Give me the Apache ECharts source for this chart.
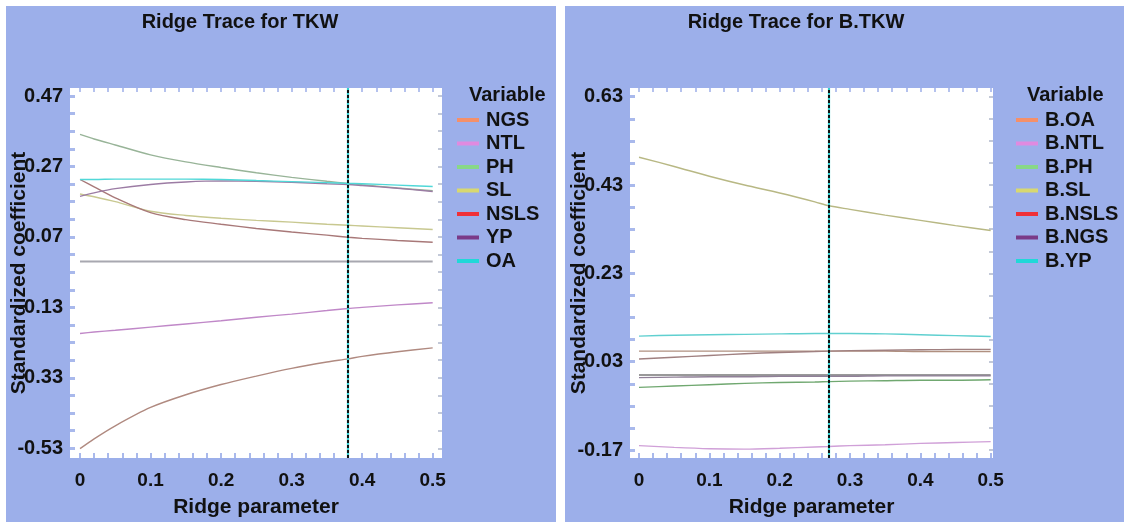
<!DOCTYPE html>
<html>
<head>
<meta charset="utf-8">
<script src="https://cdn.jsdelivr.net/npm/echarts@6/dist/echarts.min.js"></script>
<style>
html,body{margin:0;padding:0;background:#fff;}
#chart{width:1126px;height:522px;}
</style>
</head>
<body>
<div id="chart"></div>
<script>
// ---------- data ----------
const kTKW = [0, 0.02, 0.05, 0.1, 0.15, 0.2, 0.25, 0.3, 0.35, 0.38, 0.4, 0.45, 0.5];
const tkwNGS  = [-0.531, -0.503, -0.466, -0.414, -0.378, -0.349, -0.325, -0.303, -0.285, -0.276, -0.269, -0.256, -0.245];
const tkwNTL  = [-0.204, -0.200, -0.195, -0.186, -0.177, -0.168, -0.158, -0.149, -0.139, -0.133, -0.130, -0.123, -0.117];
const tkwPH   = [0.361, 0.348, 0.331, 0.303, 0.283, 0.267, 0.252, 0.239, 0.228, 0.222, 0.218, 0.209, 0.201];
const tkwSL   = [0.192, 0.184, 0.170, 0.143, 0.131, 0.123, 0.117, 0.112, 0.106, 0.103, 0.101, 0.096, 0.091];
const tkwNSLS = [0.233, 0.212, 0.181, 0.139, 0.119, 0.106, 0.094, 0.084, 0.075, 0.069, 0.066, 0.060, 0.055];
const tkwYP   = [0.185, 0.195, 0.207, 0.219, 0.226, 0.229, 0.228, 0.225, 0.221, 0.219, 0.216, 0.208, 0.199];
const tkwOA   = [0.233, 0.233, 0.234, 0.234, 0.234, 0.233, 0.230, 0.227, 0.224, 0.222, 0.221, 0.217, 0.213];

const kBTKW = [0, 0.05, 0.1, 0.15, 0.2, 0.25, 0.27, 0.3, 0.35, 0.4, 0.45, 0.5];
const bOA   = [0.054, 0.054, 0.054, 0.054, 0.054, 0.054, 0.054, 0.054, 0.054, 0.053, 0.053, 0.053];
const bNTL  = [-0.160, -0.164, -0.167, -0.168, -0.166, -0.163, -0.162, -0.160, -0.158, -0.155, -0.153, -0.151];
const bPH   = [-0.028, -0.025, -0.022, -0.019, -0.017, -0.016, -0.015, -0.014, -0.013, -0.012, -0.012, -0.011];
const bSL   = [0.493, 0.472, 0.450, 0.430, 0.412, 0.392, 0.383, 0.375, 0.362, 0.350, 0.338, 0.327];
const bNSLS = [0.036, 0.040, 0.044, 0.048, 0.051, 0.053, 0.054, 0.055, 0.056, 0.057, 0.058, 0.058];
const bNGS  = [-0.006, -0.005, -0.004, -0.004, -0.003, -0.003, -0.003, -0.003, -0.002, -0.002, -0.002, -0.002];
const bYP   = [0.088, 0.090, 0.091, 0.092, 0.093, 0.094, 0.094, 0.094, 0.093, 0.091, 0.089, 0.087];

const namesTKW  = ['NGS', 'NTL', 'PH', 'SL', 'NSLS', 'YP', 'OA'];
const namesBTKW = ['B.OA', 'B.NTL', 'B.PH', 'B.SL', 'B.NSLS', 'B.NGS', 'B.YP'];
const legendColors = ['#F4906A', '#E08AE0', '#88D888', '#D8D870', '#F03038', '#7A3A88', '#20D8D8'];

const yTicksTKW  = [-0.53, -0.33, -0.13, 0.07, 0.27, 0.47];
const yTicksBTKW = [-0.17, 0.03, 0.23, 0.43, 0.63];
const xTicks = [0, 0.1, 0.2, 0.3, 0.4, 0.5];
const baseline = 0;
const chosenK = [0.38, 0.27];

// ---------- styling ----------
const FONT = '"Liberation Sans", Arial, sans-serif';
const PANEL = '#9CAFEA';
const lineColorsTKW  = ['#B08A80', '#C088C8', '#98B498', '#C8C890', '#A87878', '#9C7CA4', '#50D8D8'];
const lineColorsBTKW = ['#B09080', '#D0A0D8', '#70A870', '#B8B884', '#A08080', '#908098', '#60D0D0'];

function fmt(v) { return String(+(+v).toFixed(2)); }
function minorTicks(labels, step, lo, hi) {
  const out = [];
  const start = labels[0];
  for (let i = -40; i < 200; i++) {
    const v = +(start + i * step).toFixed(4);
    if (v >= lo && v <= hi) out.push(v);
  }
  return out;
}

const seriesTKW = [tkwNGS, tkwNTL, tkwPH, tkwSL, tkwNSLS, tkwYP, tkwOA];
const seriesBTKW = [bOA, bNTL, bPH, bSL, bNSLS, bNGS, bYP];

function makeAxes(gridIndex, yMin, yMax, xMin, xMax, yLabels) {
  const yT = minorTicks(yLabels, 0.05, yMin, yMax);
  const xT = minorTicks(xTicks, 0.02, xMin, xMax);
  const noLine = { show: false, onZero: false };
  const xAxes = [
    {
      type: 'value', gridIndex, min: xMin, max: xMax, position: 'bottom',
      name: 'Ridge parameter', nameLocation: 'middle', nameGap: 39, nameMoveOverlap: false,
      nameTextStyle: { fontFamily: FONT, fontWeight: 'bold', fontSize: 21, color: '#111' },
      axisLine: noLine,
      axisTick: { show: true, inside: true, length: 5, lineStyle: { color: '#A9B9EC', width: 2 }, customValues: xT },
      axisLabel: { customValues: xTicks, formatter: fmt, fontFamily: FONT, fontWeight: 'bold', fontSize: 19, color: '#111', margin: 13 },
      splitLine: { show: false }
    },
    {
      type: 'value', gridIndex, min: xMin, max: xMax, position: 'top',
      axisLine: noLine,
      axisTick: { show: true, inside: true, length: 4, lineStyle: { color: '#B5C2EE', width: 2 }, customValues: xT },
      axisLabel: { show: false }, splitLine: { show: false }
    }
  ];
  const yAxes = [
    {
      type: 'value', gridIndex, min: yMin, max: yMax, position: 'left',
      name: 'Standardized coefficient', nameLocation: 'middle', nameRotate: 90, nameGap: 40, nameMoveOverlap: false,
      nameTextStyle: { fontFamily: FONT, fontWeight: 'bold', fontSize: 21, color: '#111' },
      axisLine: noLine,
      axisTick: { show: true, inside: true, length: 5, lineStyle: { color: '#A9B9EC', width: 3 }, customValues: yT },
      axisLabel: { customValues: yLabels, formatter: fmt, fontFamily: FONT, fontWeight: 'bold', fontSize: 20, color: '#111', margin: 7 },
      splitLine: { show: false }
    },
    {
      type: 'value', gridIndex, min: yMin, max: yMax, position: 'right',
      axisLine: noLine,
      axisTick: { show: true, inside: true, length: 4, lineStyle: { color: '#B0B8CC', width: 1.5 }, customValues: yT },
      axisLabel: { show: false }, splitLine: { show: false }
    }
  ];
  return { xAxes, yAxes };
}

const a1 = makeAxes(0, -0.5575, 0.4927, -0.0142, 0.5132, yTicksTKW);
const a2 = makeAxes(1, -0.188, 0.6497, -0.0128, 0.5033, yTicksBTKW);

function buildSeries(names, values, ks, lineColors, xIdx, yIdx) {
  return names.map((n, i) => ({
    name: n, type: 'line', xAxisIndex: xIdx, yAxisIndex: yIdx,
    data: ks.map((k, j) => [k, values[i][j]]),
    smooth: 0.3, showSymbol: false, symbol: 'none', silent: true,
    itemStyle: { color: legendColors[i] },
    lineStyle: { color: lineColors[i], width: 1.4 },
    z: 3
  }));
}

function zeroSeries(ks, xIdx, yIdx, color, width, vx) {
  return {
    name: 'zero' + xIdx, type: 'line', xAxisIndex: xIdx, yAxisIndex: yIdx,
    data: [[ks[0], baseline], [ks[ks.length - 1], baseline]],
    showSymbol: false, symbol: 'none', silent: true,
    lineStyle: { color, width }, z: 2,
    markLine: {
      silent: true, symbol: 'none', label: { show: false },
      data: [
        { xAxis: vx, lineStyle: { color: '#30D0D0', type: 'solid', width: 2.2 } },
        { xAxis: vx, lineStyle: { color: '#111', type: [3, 2], width: 2 } }
      ],
      z: 5
    }
  };
}

function legendData(names) {
  return names.map((n, i) => ({ name: n, itemStyle: { color: legendColors[i], borderWidth: 0 } }));
}

const titleStyle = { fontFamily: FONT, fontWeight: 'bold', fontSize: 20, color: '#111' };
const legendText = { fontFamily: FONT, fontWeight: 'bold', fontSize: 20, color: '#111', lineHeight: 20, padding: [0, 0, 0, 2] };

const option = {
  backgroundColor: '#ffffff',
  animation: false,
  graphic: [
    { type: 'rect', z: -10, shape: { x: 6, y: 6, width: 550, height: 516 }, style: { fill: PANEL } },
    { type: 'rect', z: -10, shape: { x: 565, y: 6, width: 559, height: 516 }, style: { fill: PANEL } }
  ],
  title: [
    { text: 'Ridge Trace for TKW', left: 240, top: 12, padding: 0, textAlign: 'center', textStyle: titleStyle },
    { text: 'Ridge Trace for B.TKW', left: 796, top: 12, padding: 0, textAlign: 'center', textStyle: titleStyle },
    { text: 'Variable', left: 469, top: 85, padding: 0, textStyle: titleStyle },
    { text: 'Variable', left: 1027, top: 85, padding: 0, textStyle: titleStyle }
  ],
  legend: [
    { data: legendData(namesTKW), orient: 'vertical', left: 457, top: 110, icon: 'rect',
      itemWidth: 22, itemHeight: 4, itemGap: 3.5, selectedMode: false, padding: 0, textStyle: legendText },
    { data: legendData(namesBTKW), orient: 'vertical', left: 1016, top: 110, icon: 'rect',
      itemWidth: 22, itemHeight: 4, itemGap: 3.5, selectedMode: false, padding: 0, textStyle: legendText }
  ],
  grid: [
    { left: 70, top: 88, width: 372, height: 370, show: true, backgroundColor: '#fff', borderWidth: 0,
      containLabel: false, outerBoundsMode: 'none' },
    { left: 630, top: 88, width: 363, height: 370, show: true, backgroundColor: '#fff', borderWidth: 0,
      containLabel: false, outerBoundsMode: 'none' }
  ],
  xAxis: [...a1.xAxes, ...a2.xAxes],
  yAxis: [...a1.yAxes, ...a2.yAxes],
  series: [
    zeroSeries(kTKW, 0, 0, '#A8A8B0', 2, chosenK[0]),
    ...buildSeries(namesTKW, seriesTKW, kTKW, lineColorsTKW, 0, 0),
    zeroSeries(kBTKW, 2, 2, '#777777', 1.5, chosenK[1]),
    ...buildSeries(namesBTKW, seriesBTKW, kBTKW, lineColorsBTKW, 2, 2)
  ]
};

const chart = echarts.init(document.getElementById('chart'), null, { renderer: 'canvas' });
chart.setOption(option);
</script>
</body>
</html>
